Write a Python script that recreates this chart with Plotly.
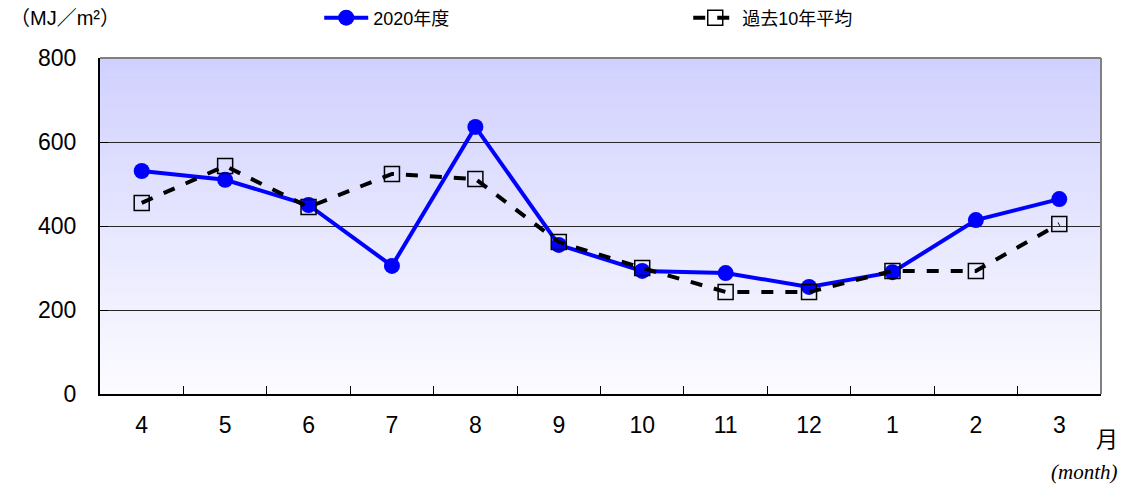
import plotly.graph_objects as go

months = ["4", "5", "6", "7", "8", "9", "10", "11", "12", "1", "2", "3"]
val_2020 = [531, 510, 450, 305, 636, 355, 293, 288, 255, 290, 414, 464]
val_avg10 = [455, 543, 445, 524, 512, 362, 300, 243, 243, 293, 293, 405]
y_ticks = [0, 200, 400, 600, 800]

FONT = "Liberation Sans, Noto Sans CJK JP, sans-serif"

fig = go.Figure()

# gradient background bands (plot area)
n = 60
top = (208, 208, 255)
bot = (252, 252, 255)
shapes = []
for i in range(n):
    t = (i + 0.5) / n
    c = tuple(int(round(bot[k] + (top[k] - bot[k]) * t)) for k in range(3))
    shapes.append(dict(type="rect", xref="x domain", yref="y domain",
                       x0=0, x1=1, y0=i / n, y1=(i + 1) / n + 0.002,
                       fillcolor="rgb(%d,%d,%d)" % c, line=dict(width=0),
                       layer="below"))
# frame: gray top/right
shapes.append(dict(type="line", xref="x domain", yref="y domain", x0=0, x1=1, y0=1, y1=1,
                   line=dict(color="rgb(128,128,128)", width=2)))
shapes.append(dict(type="line", xref="x domain", yref="y domain", x0=1, x1=1, y0=0, y1=1,
                   line=dict(color="rgb(128,128,128)", width=2)))

fig.add_trace(go.Scatter(
    x=months, y=val_2020, name="2020年度", mode="lines+markers",
    line=dict(color="rgb(0,0,255)", width=4),
    marker=dict(symbol="circle", size=16, color="rgb(0,0,255)"),
))
fig.add_trace(go.Scatter(
    x=months, y=val_avg10, name="過去10年平均", mode="lines+markers",
    line=dict(color="black", width=4, dash="dash"),
    marker=dict(symbol="square-open", size=15, color="black", line=dict(width=1.5)),
))

fig.update_layout(
    width=1126, height=488,
    margin=dict(l=92, r=33, t=50, b=102, autoexpand=False),
    paper_bgcolor="white", plot_bgcolor="white",
    font=dict(family=FONT, size=20, color="black"),
    showlegend=True,
    legend=dict(orientation="h", x=0.219, xanchor="left",
                yref="paper", y=1.119, yanchor="middle",
                font=dict(size=18, family=FONT), itemwidth=44,
                entrywidth=310, entrywidthmode="pixels", bgcolor="rgba(0,0,0,0)"),
    shapes=shapes,
    annotations=[
        dict(text="（MJ／m²）", xref="paper", yref="paper", x=-0.092, y=1.0,
             yshift=40, xanchor="left", yanchor="middle", showarrow=False,
             font=dict(size=20, family=FONT)),
        dict(text="月", xref="paper", yref="paper", x=1.006, y=0, yshift=-43,
             xanchor="center", yanchor="middle", showarrow=False,
             font=dict(size=22, family="Noto Sans CJK JP")),
        dict(text="<i>(month)</i>", xref="paper", yref="paper", x=1.019, y=0, yshift=-78,
             xanchor="right", yanchor="middle", showarrow=False,
             font=dict(size=21, family="Liberation Serif, serif")),
    ],
)

fig.update_xaxes(type="category", categoryorder="array", categoryarray=months,
                 range=[-0.5, 11.5], showgrid=False, tickson="boundaries",
                 ticks="inside", ticklen=8, tickcolor="black", showline=True,
                 linecolor="black", linewidth=2, ticklabelstandoff=9,
                 tickfont=dict(size=23), zeroline=False)
fig.update_yaxes(range=[0, 800], tickvals=y_ticks, showgrid=True,
                 gridcolor="rgb(40,40,40)", gridwidth=1, showline=True,
                 linecolor="black", linewidth=2, ticks="inside", ticklen=8,
                 tickcolor="black", tickfont=dict(size=23), zeroline=False,
                 ticklabelstandoff=17)

fig.write_html("out.html")
